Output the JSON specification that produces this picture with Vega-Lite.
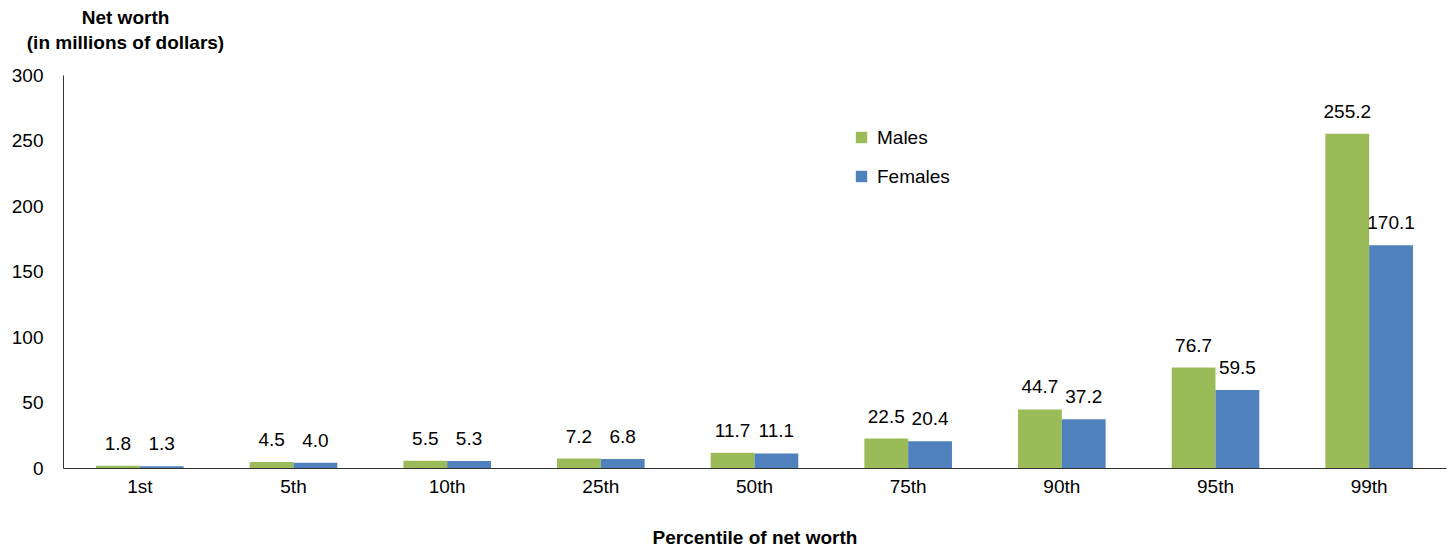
{
  "$schema": "https://vega.github.io/schema/vega-lite/v6.json",
  "autosize": "none",
  "width": 1383,
  "height": 393,
  "padding": {"left": 63, "top": 75, "right": 10, "bottom": 80},
  "background": "white",
  "config": {
    "view": {"stroke": null},
    "font": "Liberation Sans",
    "axis": {"grid": false, "ticks": false, "domainColor": "#333333", "labelColor": "#000000", "titleColor": "#000000", "labelFont": "Liberation Sans", "titleFont": "Liberation Sans"}
  },
  "data": {
    "values": [
      {"percentile": "1st", "sex": "Males", "value": 1.8},
      {"percentile": "1st", "sex": "Females", "value": 1.3},
      {"percentile": "5th", "sex": "Males", "value": 4.5},
      {"percentile": "5th", "sex": "Females", "value": 4.0},
      {"percentile": "10th", "sex": "Males", "value": 5.5},
      {"percentile": "10th", "sex": "Females", "value": 5.3},
      {"percentile": "25th", "sex": "Males", "value": 7.2},
      {"percentile": "25th", "sex": "Females", "value": 6.8},
      {"percentile": "50th", "sex": "Males", "value": 11.7},
      {"percentile": "50th", "sex": "Females", "value": 11.1},
      {"percentile": "75th", "sex": "Males", "value": 22.5},
      {"percentile": "75th", "sex": "Females", "value": 20.4},
      {"percentile": "90th", "sex": "Males", "value": 44.7},
      {"percentile": "90th", "sex": "Females", "value": 37.2},
      {"percentile": "95th", "sex": "Males", "value": 76.7},
      {"percentile": "95th", "sex": "Females", "value": 59.5},
      {"percentile": "99th", "sex": "Males", "value": 255.2},
      {"percentile": "99th", "sex": "Females", "value": 170.1}
    ]
  },
  "encoding": {
    "x": {
      "field": "percentile", "type": "nominal",
      "sort": ["1st", "5th", "10th", "25th", "50th", "75th", "90th", "95th", "99th"],
      "scale": {"paddingInner": 0.43, "paddingOuter": 0.215},
      "axis": {"labelAngle": 0, "labelFontSize": 19, "labelPadding": 9, "title": "Percentile of net worth", "titleFontSize": 19, "titleFontWeight": "bold", "titleY": 75, "titleBaseline": "alphabetic"}
    },
    "xOffset": {"field": "sex", "type": "nominal", "sort": ["Males", "Females"]},
    "y": {
      "field": "value", "type": "quantitative",
      "scale": {"domain": [0, 300], "nice": false},
      "axis": {"values": [0, 50, 100, 150, 200, 250, 300], "labelFontSize": 19, "labelPadding": 20, "title": ["Net worth", "(in millions of dollars)"], "titleFontSize": 19, "titleFontWeight": "bold", "titleAngle": 0, "titleAlign": "center", "titleX": 62, "titleY": -52, "titleBaseline": "alphabetic", "titleLineHeight": 25}
    }
  },
  "layer": [
    {
      "mark": {"type": "bar"},
      "encoding": {
        "color": {
          "field": "sex", "type": "nominal",
          "scale": {"domain": ["Males", "Females"], "range": ["#9BBB59", "#4F81BD"]},
          "legend": {"title": null, "orient": "none", "legendX": 789, "legendY": 53, "symbolType": "square", "symbolSize": 130, "symbolStrokeWidth": 0, "labelFontSize": 19, "labelFont": "Liberation Sans", "labelColor": "#000000", "rowPadding": 19, "labelOffset": 6}
        }
      }
    },
    {
      "mark": {"type": "text", "fontSize": 19, "baseline": "alphabetic", "dy": -16, "color": "#000000", "font": "Liberation Sans"},
      "encoding": {
        "text": {"field": "value", "type": "quantitative", "format": ".1f"}
      }
    }
  ]
}
